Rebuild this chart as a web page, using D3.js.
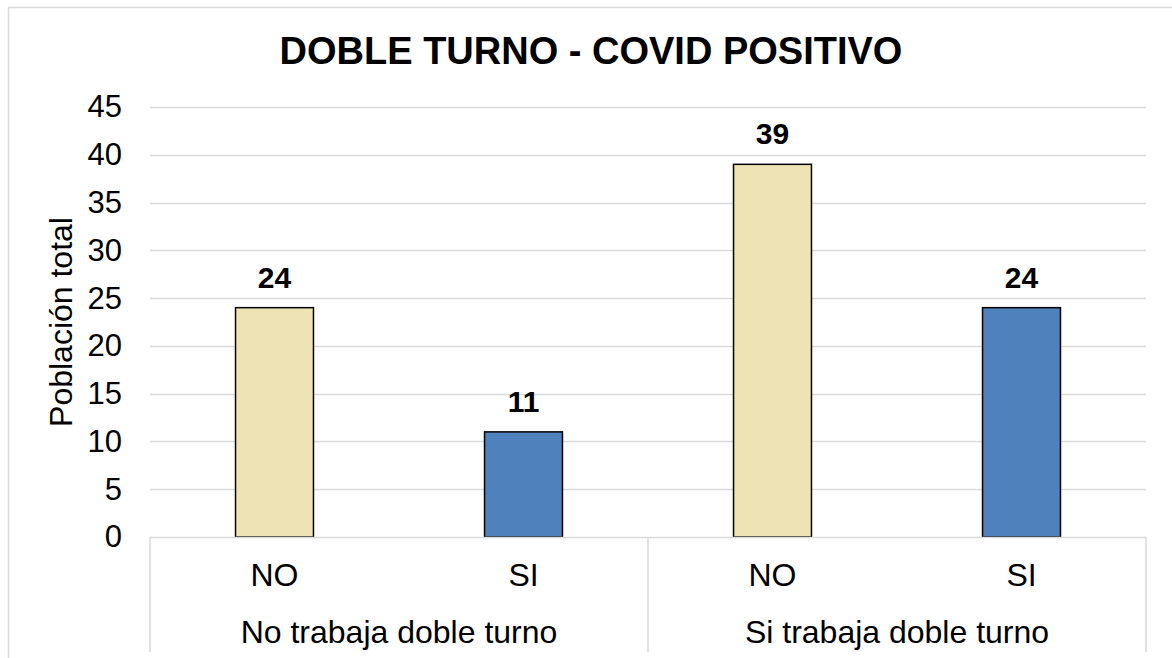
<!DOCTYPE html>
<html>
<head>
<meta charset="utf-8">
<script src="https://cdn.jsdelivr.net/npm/d3@7"></script>
<style>
  html, body { margin: 0; padding: 0; background: #fff; }
  svg { display: block; font-family: "Liberation Sans", Arial, sans-serif; }
</style>
</head>
<body>
<svg id="chart" width="1172" height="658"></svg>
<script>
const title = "DOBLE TURNO - COVID POSITIVO";
const yTitle = "Población total";
const groups = ["No trabaja doble turno", "Si trabaja doble turno"];
const subCategories = ["NO", "SI"];
const noTrabajaValues = [24, 11];
const siTrabajaValues = [39, 24];
const yTicks = [0, 5, 10, 15, 20, 25, 30, 35, 40, 45];
const subColors = ["#EEE3B4", "#4F81BD"];

const groupValues = [noTrabajaValues, siTrabajaValues];
const data = [];
groups.forEach((g, gi) => subCategories.forEach((s, si) => {
  data.push({ key: g + "|" + s, group: g, sub: s, si: si, value: groupValues[gi][si] });
}));

const svg = d3.select("#chart");
const plot = { left: 150, right: 1146, top: 107, bottom: 537 };

// outer chart border
svg.append("rect").attr("x", 8.5).attr("y", 7.5).attr("width", 1200).attr("height", 700)
  .attr("fill", "#fff").attr("stroke", "#d9d9d9").attr("stroke-width", 1.5);

const y = d3.scaleLinear().domain([0, 45]).range([plot.bottom, plot.top]);
const x = d3.scaleBand().domain(data.map(d => d.key)).range([plot.left, plot.right])
  .paddingInner(0.687).paddingOuter(0.3435);
const xGroup = d3.scaleBand().domain(groups).range([plot.left, plot.right]);

// gridlines
svg.append("g").selectAll("line").data(yTicks.filter(t => t > 0)).join("line")
  .attr("x1", plot.left).attr("x2", plot.right)
  .attr("y1", d => Math.round(y(d)) + 0.5).attr("y2", d => Math.round(y(d)) + 0.5)
  .attr("stroke", "#d9d9d9").attr("stroke-width", 1.5);

// y tick labels
const yAxis = d3.axisLeft(y).tickValues(yTicks).tickSize(0).tickPadding(0);
const gy = svg.append("g").attr("transform", `translate(122,0)`).call(yAxis);
gy.select(".domain").remove();
gy.selectAll("text").attr("font-size", 31).attr("fill", "#000")
  .attr("font-family", "Liberation Sans, Arial, sans-serif");

// y title
svg.append("text")
  .attr("transform", `translate(72,${(plot.top + plot.bottom) / 2}) rotate(-90)`)
  .attr("text-anchor", "middle").attr("font-size", 32).attr("fill", "#000")
  .text(yTitle);

// bars
svg.append("g").selectAll("rect").data(data).join("rect")
  .attr("x", d => x(d.key)).attr("width", x.bandwidth())
  .attr("y", d => y(d.value)).attr("height", d => y(0) - y(d.value))
  .attr("fill", d => subColors[d.si]).attr("stroke", "#000").attr("stroke-width", 1.5);

// data labels
svg.append("g").selectAll("text").data(data).join("text")
  .attr("x", d => x(d.key) + x.bandwidth() / 2).attr("y", d => y(d.value) - 20)
  .attr("text-anchor", "middle").attr("font-size", 30).attr("font-weight", "bold")
  .attr("fill", "#000").text(d => d.value);

// category axis
const axisG = svg.append("g");
axisG.append("line").attr("x1", plot.left).attr("x2", plot.right)
  .attr("y1", plot.bottom + 0.5).attr("y2", plot.bottom + 0.5)
  .attr("stroke", "#d9d9d9").attr("stroke-width", 1.5);
const seps = [plot.left, ...groups.map(g => xGroup(g) + xGroup.bandwidth())];
axisG.selectAll("line.sep").data(seps).join("line").attr("class", "sep")
  .attr("x1", d => d).attr("x2", d => d)
  .attr("y1", plot.bottom).attr("y2", 652)
  .attr("stroke", "#d9d9d9").attr("stroke-width", 1.5);

axisG.selectAll("text.sub").data(data).join("text").attr("class", "sub")
  .attr("x", d => x(d.key) + x.bandwidth() / 2).attr("y", 586)
  .attr("text-anchor", "middle").attr("font-size", 32).attr("fill", "#000")
  .text(d => d.sub);
axisG.selectAll("text.grp").data(groups).join("text").attr("class", "grp")
  .attr("x", d => xGroup(d) + xGroup.bandwidth() / 2).attr("y", 643)
  .attr("text-anchor", "middle").attr("font-size", 32).attr("fill", "#000")
  .text(d => d);

// title
svg.append("text").attr("x", 591).attr("y", 64).attr("text-anchor", "middle")
  .attr("font-size", 38).attr("font-weight", "bold").attr("fill", "#000").text(title);
</script>
</body>
</html>
